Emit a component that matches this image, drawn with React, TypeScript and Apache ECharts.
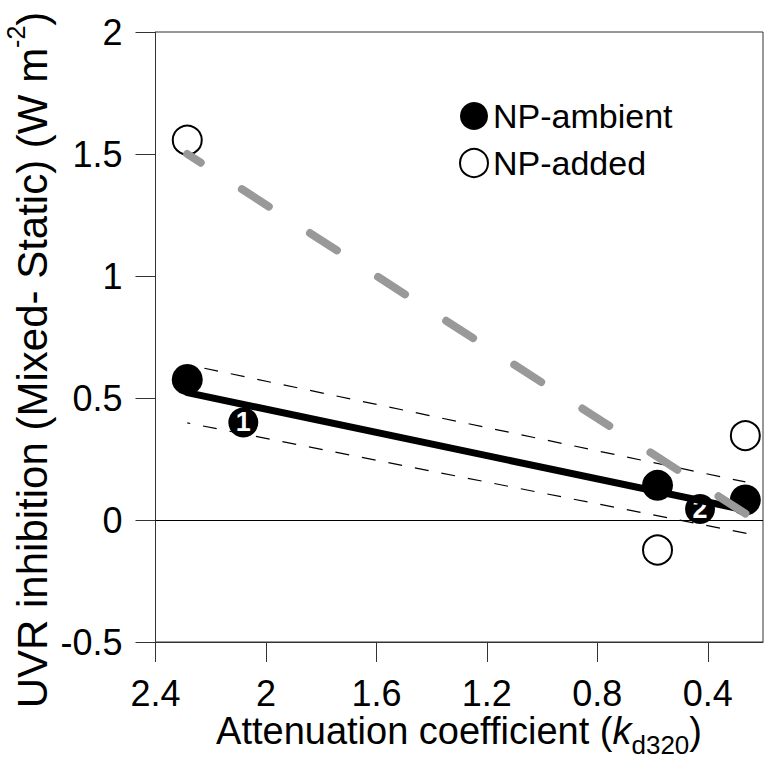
import React, { useEffect, useRef } from "react";
import * as echarts from "echarts";

const FONT = "'Liberation Sans', Arial, Helvetica, sans-serif";

// x: attenuation coefficient kd320, y: UVR inhibition (Mixed - Static)
const kdTicks = [2.4, 2.0, 1.6, 1.2, 0.8, 0.4];

const ambientX = [2.285, 0.582, 0.264];
const ambientY = [0.576, 0.142, 0.082];

const addedX = [2.285, 0.582, 0.264];
const addedY = [1.557, -0.123, 0.346];

const numberedX = [2.082, 0.428];
const numberedY = [0.40, 0.045];
const numberedLabels = ["1", "2"];

const ambientFitX = [2.285, 0.264];
const ambientFitY = [0.522, 0.041];

const ciUpperX = [2.223, 0.264];
const ciUpperY = [0.622, 0.156];

const ciLowerX = [2.285, 0.258];
const ciLowerY = [0.398, -0.055];

const addedFitX = [2.285, 0.262];
const addedFitY = [1.50, 0.025];

const pairs = (xs: number[], ys: number[]) => xs.map((x, i) => [x, ys[i]]);

export default function App() {
  const ref = useRef<HTMLDivElement>(null);
  useEffect(() => {
    if (!ref.current) return;
    const chart = echarts.init(ref.current, null, { renderer: "svg" });
    const option: any = {
      animation: false,
      backgroundColor: "#fff",
      grid: {
        left: 155.5,
        right: 2,
        top: 32,
        bottom: 122,
        show: true,
        borderColor: "#333",
        borderWidth: 1,
      },
      xAxis: {
        type: "value",
        inverse: true,
        min: 0.2,
        max: 2.4,
        axisLine: { show: true, onZero: false, lineStyle: { color: "#333", width: 1 } },
        axisTick: { show: true, length: 20, customValues: kdTicks, lineStyle: { color: "#333", width: 1 } },
        axisLabel: { customValues: kdTicks, margin: 33, fontSize: 36, color: "#000", fontFamily: FONT },
        splitLine: { show: false },
      },
      yAxis: {
        type: "value",
        min: -0.5,
        max: 2,
        interval: 0.5,
        axisLine: { show: true, onZero: false, lineStyle: { color: "#333", width: 1 } },
        axisTick: { show: true, length: 20, lineStyle: { color: "#333", width: 1 } },
        axisLabel: { margin: 33, fontSize: 36, color: "#000", fontFamily: FONT },
        splitLine: { show: false },
      },
      legend: {
        left: 454,
        top: 94,
        padding: 5,
        orient: "vertical",
        itemWidth: 28,
        itemHeight: 28,
        itemGap: 13,
        selectedMode: false,
        textStyle: { fontSize: 34, lineHeight: 34, color: "#000", fontFamily: FONT },
        data: [
          { name: "NP-ambient", icon: "circle", itemStyle: { color: "#000", borderWidth: 0 } },
          { name: "NP-added", icon: "circle", itemStyle: { color: "#fff", borderColor: "#000", borderWidth: 2 } },
        ],
      },
      series: [
        {
          name: "zero",
          type: "line",
          data: [],
          silent: true,
          markLine: {
            silent: true,
            symbol: ["none", "none"],
            label: { show: false },
            lineStyle: { color: "#000", width: 1, type: "solid" },
            data: [{ yAxis: 0 }],
          },
        },
        {
          name: "ci-upper",
          type: "line",
          data: pairs(ciUpperX, ciUpperY),
          symbol: "none",
          silent: true,
          lineStyle: { color: "#000", width: 1.2, type: [14, 13], cap: "butt" },
        },
        {
          name: "ci-lower",
          type: "line",
          data: pairs(ciLowerX, ciLowerY),
          symbol: "none",
          silent: true,
          lineStyle: { color: "#000", width: 1.2, type: [14, 13], dashOffset: 11, cap: "butt" },
        },
        {
          name: "ambient-fit",
          type: "line",
          data: pairs(ambientFitX, ambientFitY),
          symbol: "none",
          silent: true,
          lineStyle: { color: "#000", width: 7, cap: "round" },
        },
        {
          name: "NP-added",
          type: "scatter",
          data: pairs(addedX, addedY),
          symbol: "circle",
          symbolSize: 29,
          itemStyle: { color: "#fff", borderColor: "#000", borderWidth: 2, opacity: 1 },
        },
        {
          name: "NP-ambient",
          type: "scatter",
          data: pairs(ambientX, ambientY),
          symbol: "circle",
          symbolSize: 31,
          itemStyle: { color: "#000", opacity: 1 },
        },
        {
          name: "added-fit",
          type: "line",
          data: pairs(addedFitX, addedFitY),
          symbol: "none",
          silent: true,
          lineStyle: { color: "#999", width: 8, type: [32, 49], dashOffset: 16, cap: "round" },
        },
        {
          name: "numbered",
          type: "scatter",
          data: numberedX.map((x, i) => [x, numberedY[i], numberedLabels[i]]),
          symbol: "circle",
          symbolSize: 30,
          itemStyle: { color: "#000", opacity: 1 },
          label: {
            show: true,
            position: "inside",
            formatter: (p: any) => p.value[2],
            color: "#fff",
            fontWeight: "bold",
            fontSize: 27,
            fontFamily: FONT,
          },
        },
      ],
      graphic: [
        {
          type: "text",
          x: 28,
          y: 360,
          rotation: Math.PI / 2,
          style: {
            text: "{a|UVR inhibition (Mixed- Static) (W m}{s|-2}{a|)}",
            align: "center",
            verticalAlign: "middle",
            fill: "#000",
            font: `42px ${FONT}`,
            rich: {
              a: { fontSize: 42, lineHeight: 50, verticalAlign: "bottom", fontFamily: FONT, fill: "#000" },
              s: { fontSize: 25, lineHeight: 25, verticalAlign: "top", fontFamily: FONT, fill: "#000" },
            },
          },
        },
        {
          type: "text",
          x: 459,
          y: 735,
          style: {
            text: "{a|Attenuation coefficient (}{i|k}{s|d320}{a|)}",
            align: "center",
            verticalAlign: "middle",
            fill: "#000",
            font: `38px ${FONT}`,
            rich: {
              a: { fontSize: 38, lineHeight: 46, verticalAlign: "top", fontFamily: FONT, fill: "#000" },
              i: { fontSize: 38, lineHeight: 46, verticalAlign: "top", fontStyle: "italic", fontFamily: FONT, fill: "#000" },
              s: { fontSize: 26, lineHeight: 26, verticalAlign: "bottom", fontFamily: FONT, fill: "#000" },
            },
          },
        },
      ],
    };
    chart.setOption(option);
    return () => chart.dispose();
  }, []);
  return (
    <div
      ref={ref}
      style={{ position: "fixed", left: 0, top: 0, width: 765, height: 764, background: "#fff" }}
    />
  );
}
